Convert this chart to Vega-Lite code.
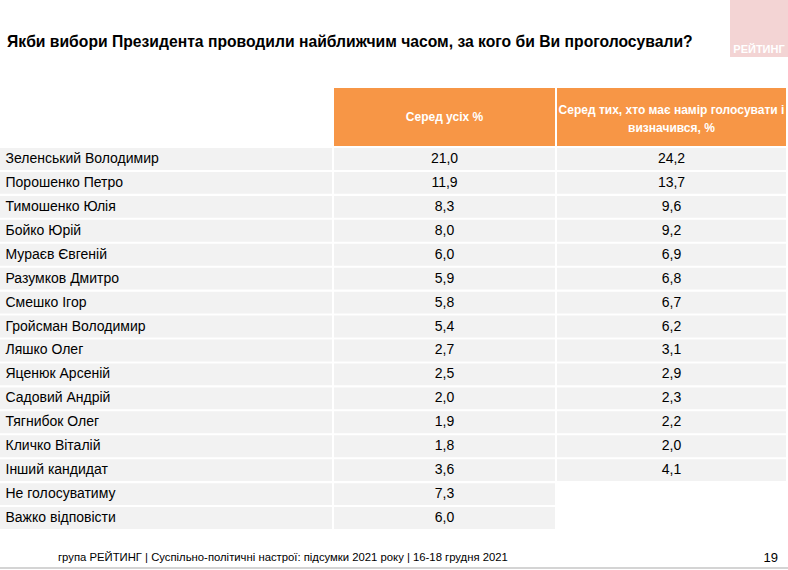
{
  "$schema": "https://vega.github.io/schema/vega-lite/v6.json",
  "background": "white",
  "padding": 0,
  "spacing": 2,
  "config": {
    "view": {"stroke": null},
    "font": "Liberation Sans",
    "locale": {"number": {"decimal": ",", "thousands": " ", "grouping": [3], "currency": ["", " грн"]}},
    "title": {"color": "#000000", "font": "Liberation Sans"}
  },
  "datasets": {
    "rows": [
      {"name": "Зеленський Володимир", "all": 21.0, "decided": 24.2},
      {"name": "Порошенко Петро", "all": 11.9, "decided": 13.7},
      {"name": "Тимошенко Юлія", "all": 8.3, "decided": 9.6},
      {"name": "Бойко Юрій", "all": 8.0, "decided": 9.2},
      {"name": "Мураєв Євгеній", "all": 6.0, "decided": 6.9},
      {"name": "Разумков Дмитро", "all": 5.9, "decided": 6.8},
      {"name": "Смешко Ігор", "all": 5.8, "decided": 6.7},
      {"name": "Гройсман Володимир", "all": 5.4, "decided": 6.2},
      {"name": "Ляшко Олег", "all": 2.7, "decided": 3.1},
      {"name": "Яценюк Арсеній", "all": 2.5, "decided": 2.9},
      {"name": "Садовий Андрій", "all": 2.0, "decided": 2.3},
      {"name": "Тягнибок Олег", "all": 1.9, "decided": 2.2},
      {"name": "Кличко Віталій", "all": 1.8, "decided": 2.0},
      {"name": "Інший кандидат", "all": 3.6, "decided": 4.1},
      {"name": "Не голосуватиму", "all": 7.3, "decided": null},
      {"name": "Важко відповісти", "all": 6.0, "decided": null}
    ]
  },
  "vconcat": [
    {
      "spacing": 2,
      "bounds": "flush",
      "hconcat": [
        {
          "width": 728, "height": 86,
          "data": {"values": []},
          "mark": "rect",
          "title": {
            "text": "Якби вибори Президента проводили найближчим часом, за кого би Ви проголосували?",
            "orient": "top", "anchor": "start", "offset": -46, "baseline": "alphabetic",
            "dx": 7, "dy": 17, "fontSize": 15.7, "fontWeight": "bold"
          }
        },
        {
          "width": 58, "height": 57,
          "view": {"fill": "#F3D4D4", "stroke": null},
          "data": {"values": [{"t": "РЕЙТИНГ"}]},
          "mark": {"type": "text", "color": "#FFFFFF", "fontWeight": "bold", "fontSize": 11, "dy": 21},
          "encoding": {"text": {"field": "t"}}
        }
      ]
    },
    {
      "spacing": 2,
      "bounds": "flush",
      "hconcat": [
        {"width": 332, "height": 58, "data": {"values": []}, "mark": "rect"},
        {
          "width": 221, "height": 58,
          "view": {"fill": "#F79646", "stroke": null},
          "data": {"values": [{"h": "Серед усіх %"}]},
          "mark": {"type": "text", "color": "#FFFFFF", "fontWeight": "bold", "fontSize": 12},
          "encoding": {"text": {"field": "h"}}
        },
        {
          "width": 229, "height": 58,
          "view": {"fill": "#F79646", "stroke": null},
          "data": {"values": [{"h": "Серед тих, хто має намір голосувати і\nвизначився, %"}]},
          "mark": {"type": "text", "color": "#FFFFFF", "fontWeight": "bold", "fontSize": 12, "lineBreak": "\n", "lineHeight": 18, "dy": -7},
          "encoding": {"text": {"field": "h"}}
        }
      ]
    },
    {
      "spacing": 2,
      "bounds": "flush",
      "data": {"name": "rows"},
      "hconcat": [
        {
          "width": 332, "height": 381,
          "title": {
            "text": "група РЕЙТИНГ | Суспільно-політичні настрої: підсумки 2021 року | 16-18 грудня 2021",
            "orient": "bottom", "anchor": "start", "dx": 58, "offset": 32, "baseline": "alphabetic",
            "fontSize": 11.3, "fontWeight": "normal", "font": "Liberation Sans"
          },
          "mark": {"type": "rect", "fill": "#F2F2F2"},
          "encoding": {
            "y": {
              "field": "name", "type": "nominal", "sort": null,
              "scale": {"paddingInner": 0.084, "paddingOuter": 0},
              "axis": {
                "orient": "left", "title": null, "domain": false, "ticks": false, "tickSize": 0,
                "labelAlign": "left", "labelPadding": -5, "labelFontSize": 14, "labelColor": "#000000",
                "labelFont": "Liberation Sans", "labelLimit": 0, "zindex": 1
              }
            }
          }
        },
        {
          "width": 221, "height": 381,
          "encoding": {
            "y": {"field": "name", "type": "nominal", "sort": null, "scale": {"paddingInner": 0.084, "paddingOuter": 0}, "axis": null}
          },
          "layer": [
            {"mark": {"type": "rect", "fill": "#F2F2F2"}},
            {
              "mark": {"type": "text", "fontSize": 14, "color": "#000000"},
              "encoding": {"text": {"field": "all", "type": "quantitative", "format": ".1f"}}
            }
          ]
        },
        {
          "width": 229, "height": 381,
          "title": {
            "text": "19", "orient": "bottom", "anchor": "end", "dx": -8, "offset": 33, "baseline": "alphabetic",
            "fontSize": 13, "fontWeight": "normal"
          },
          "encoding": {
            "y": {"field": "name", "type": "nominal", "sort": null, "scale": {"paddingInner": 0.084, "paddingOuter": 0}, "axis": null}
          },
          "layer": [
            {
              "mark": {"type": "rect"},
              "encoding": {"fill": {"condition": {"test": "isValid(datum.decided)", "value": "#F2F2F2"}, "value": "transparent"}}
            },
            {
              "mark": {"type": "text", "fontSize": 14, "color": "#000000"},
              "encoding": {"text": {"condition": {"test": "isValid(datum.decided)", "field": "decided", "type": "quantitative", "format": ".1f"}, "value": ""}}
            }
          ]
        }
      ]
    },
    {
      "width": 788, "height": 2,
      "view": {"fill": "#D4D4D4", "stroke": null},
      "data": {"values": []},
      "mark": "rect"
    }
  ]
}
